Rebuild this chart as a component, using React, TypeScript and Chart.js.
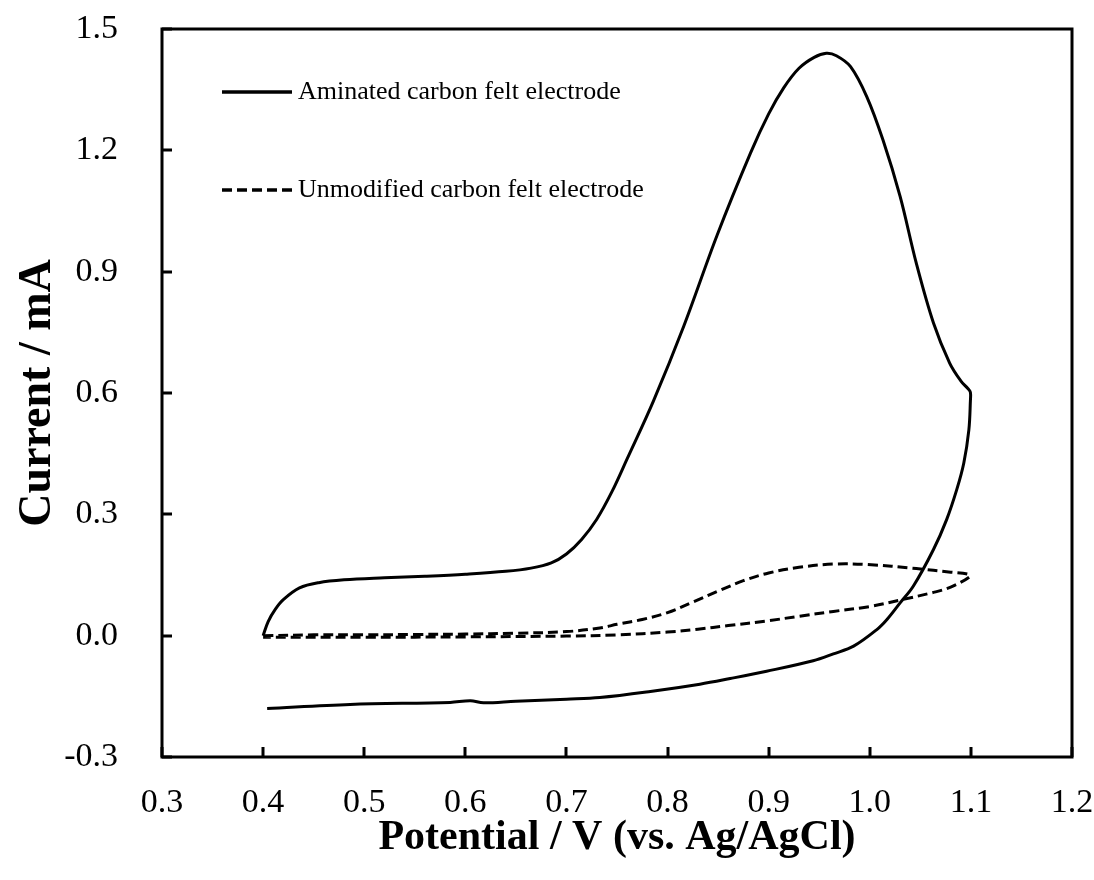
import React, { useEffect, useRef } from 'react';
import { Chart, registerables } from 'chart.js';

Chart.register(...registerables);

// ---- Data ----
const seriesLabels = ['Aminated carbon felt electrode', 'Unmodified carbon felt electrode'];

const aminatedPotential = [
  0.400, 0.405, 0.412, 0.420, 0.436, 0.455, 0.480, 0.520, 0.560, 0.600, 0.640, 0.665, 0.685, 0.700,
  0.715, 0.730, 0.745, 0.760, 0.786, 0.816, 0.849, 0.882, 0.900, 0.915, 0.930, 0.945, 0.957, 0.967,
  0.981, 0.997, 1.013, 1.030, 1.046, 1.063, 1.079, 1.090, 1.097, 1.0995,
  1.0995, 1.098, 1.093, 1.086, 1.076, 1.063, 1.043, 1.030, 1.017, 1.007, 0.984, 0.964, 0.944, 0.898,
  0.862, 0.832, 0.783, 0.733, 0.700, 0.650, 0.618, 0.605, 0.585, 0.486, 0.404,
];
const aminatedCurrent = [
  0.000, 0.035, 0.065, 0.089, 0.118, 0.131, 0.138, 0.143, 0.147, 0.152, 0.159, 0.167, 0.180, 0.202,
  0.238, 0.288, 0.356, 0.437, 0.580, 0.765, 0.990, 1.193, 1.290, 1.355, 1.403, 1.430, 1.440, 1.434,
  1.407, 1.333, 1.226, 1.086, 0.921, 0.773, 0.674, 0.630, 0.611, 0.602,
  0.580, 0.509, 0.427, 0.361, 0.287, 0.213, 0.122, 0.081, 0.040, 0.015, -0.026, -0.045, -0.062, -0.088,
  -0.106, -0.120, -0.138, -0.153, -0.157, -0.162, -0.166, -0.161, -0.165, -0.170, -0.180,
];

const unmodifiedPotential = [
  0.400, 0.450, 0.500, 0.550, 0.600, 0.650, 0.700, 0.733, 0.750, 0.775, 0.800, 0.825, 0.850, 0.875,
  0.900, 0.930, 0.964, 0.997, 1.046, 1.080, 1.097, 1.099,
  1.080, 1.063, 1.030, 1.000, 0.964, 0.930, 0.900, 0.860, 0.830, 0.800, 0.750, 0.700, 0.600, 0.500, 0.400,
];
const unmodifiedCurrent = [
  0.000, 0.002, 0.002, 0.003, 0.004, 0.006, 0.010, 0.019, 0.028, 0.040, 0.057, 0.083, 0.110, 0.136,
  0.155, 0.169, 0.177, 0.176, 0.166, 0.157, 0.152, 0.146,
  0.120, 0.107, 0.088, 0.072, 0.060, 0.048, 0.037, 0.025, 0.016, 0.009, 0.002, -0.001, -0.003, -0.004, -0.004,
];

const xTickValues = [0.3, 0.4, 0.5, 0.6, 0.7, 0.8, 0.9, 1.0, 1.1, 1.2];
const yTickValues = [-0.3, 0.0, 0.3, 0.6, 0.9, 1.2, 1.5];
const xTitle = 'Potential / V (vs. Ag/AgCl)';
const yTitle = 'Current / mA';

const SERIF = '"Liberation Serif", "Times New Roman", serif';

const framePlugin = {
  id: 'frameTicksLegend',
  afterDraw(chart: any) {
    const ctx = chart.ctx;
    const { left, right, top, bottom } = chart.chartArea;
    const xs = chart.scales.x;
    const ys = chart.scales.y;
    ctx.save();
    ctx.strokeStyle = '#000';
    ctx.lineWidth = 3;
    ctx.lineCap = 'butt';
    // inward tick marks
    ctx.beginPath();
    xTickValues.forEach((v) => {
      const px = Math.round(xs.getPixelForValue(v));
      ctx.moveTo(px, bottom);
      ctx.lineTo(px, bottom - 10);
    });
    yTickValues.forEach((v) => {
      const py = Math.round(ys.getPixelForValue(v));
      ctx.moveTo(left, py);
      ctx.lineTo(left + 10, py);
    });
    ctx.stroke();
    // frame
    ctx.strokeRect(left, top, right - left, bottom - top);

    // legend inside plot
    const items = chart.data.datasets;
    const rowsY = [top + 63, top + 161];
    items.forEach((ds: any, i: number) => {
      const y = rowsY[i];
      ctx.beginPath();
      ctx.lineWidth = 3.5;
      ctx.setLineDash(ds.borderDash || []);
      ctx.moveTo(left + 60, y);
      ctx.lineTo(left + 130, y);
      ctx.stroke();
      ctx.setLineDash([]);
      ctx.fillStyle = '#000';
      ctx.font = '26px ' + SERIF;
      ctx.textBaseline = 'middle';
      ctx.textAlign = 'left';
      ctx.fillText(ds.label, left + 136, y);
    });
    ctx.restore();
  },
};

export default function App() {
  const canvasRef = useRef<HTMLCanvasElement | null>(null);

  useEffect(() => {
    if (!canvasRef.current) return;
    const toPoints = (xs: number[], ys: number[]) => xs.map((x, i) => ({ x, y: ys[i] }));
    const chart = new Chart(canvasRef.current, {
      type: 'scatter',
      data: {
        datasets: [
          {
            label: seriesLabels[0],
            data: toPoints(aminatedPotential, aminatedCurrent),
            showLine: true,
            borderColor: '#000',
            backgroundColor: '#000',
            borderWidth: 3,
            pointRadius: 0,
            tension: 0.35,
            fill: false,
          },
          {
            label: seriesLabels[1],
            data: toPoints(unmodifiedPotential, unmodifiedCurrent),
            showLine: true,
            borderColor: '#000',
            backgroundColor: '#000',
            borderWidth: 3,
            borderDash: [10, 5],
            pointRadius: 0,
            tension: 0.35,
            fill: false,
          },
        ],
      },
      options: {
        responsive: false,
        animation: false,
        layout: { padding: { left: 0, top: 29, right: 22, bottom: 0 } },
        plugins: {
          legend: { display: false },
          tooltip: { enabled: false },
        },
        scales: {
          x: {
            type: 'linear',
            min: 0.3,
            max: 1.2,
            afterBuildTicks: (scale: any) => {
              scale.ticks = xTickValues.map((v) => ({ value: v }));
            },
            afterFit: (scale: any) => {
              scale.height = 880 - 757;
              scale.paddingLeft = 0;
              scale.paddingRight = 0;
            },
            ticks: {
              color: '#000',
              font: { family: SERIF, size: 34 },
              padding: 26,
              callback: (v: any) => Number(v).toFixed(1),
            },
            grid: { display: false, drawTicks: false },
            border: { display: false },
            title: {
              display: true,
              text: xTitle,
              color: '#000',
              font: { family: SERIF, size: 42, weight: 'bold' },
              padding: { top: 0, bottom: 17 },
            },
          },
          y: {
            type: 'linear',
            min: -0.3,
            max: 1.5,
            afterBuildTicks: (scale: any) => {
              scale.ticks = yTickValues.map((v) => ({ value: v }));
            },
            afterFit: (scale: any) => {
              scale.width = 162;
              scale.paddingTop = 0;
              scale.paddingBottom = 0;
            },
            ticks: {
              color: '#000',
              font: { family: SERIF, size: 34 },
              padding: 44,
              callback: (v: any) => Number(v).toFixed(1),
            },
            grid: { display: false, drawTicks: false },
            border: { display: false },
            title: {
              display: true,
              text: yTitle,
              color: '#000',
              font: { family: SERIF, size: 46, weight: 'bold' },
              padding: { top: 11, bottom: 0 },
            },
          },
        },
      },
      plugins: [framePlugin],
    } as any);
    return () => chart.destroy();
  }, []);

  return (
    <div style={{ position: 'absolute', left: 0, top: 0, width: 1094, height: 880, background: '#fff' }}>
      <canvas ref={canvasRef} width={1094} height={880} style={{ display: 'block' }} />
    </div>
  );
}
